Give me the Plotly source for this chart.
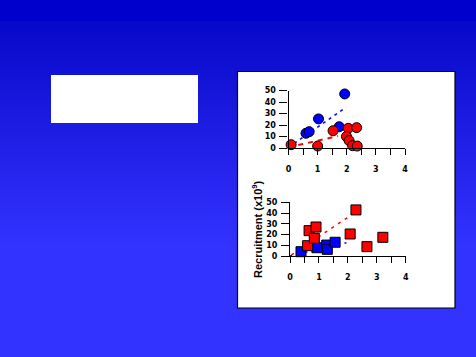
import plotly.graph_objects as go

W, H = 476, 357

# ---- data ----
top_blue_x = [0.60, 0.71, 1.03, 1.74, 1.93]
top_blue_y = [12.8, 14.2, 25.3, 18.5, 47.0]
top_red_x = [0.09, 1.00, 1.53, 2.05, 2.34, 1.99, 2.08, 2.20, 2.36]
top_red_y = [2.9, 1.7, 15.0, 17.1, 17.7, 10.0, 6.5, 2.0, 1.7]
top_blue_fit_x = [0.0, 1.98]
top_blue_fit_y = [0.6, 35.4]
top_red_fit_x = [0.0, 1.70]
top_red_fit_y = [0.6, 10.4]

bot_red_x = [0.61, 0.66, 0.90, 0.84, 2.08, 2.28, 2.66, 3.21]
bot_red_y = [9.6, 23.6, 27.0, 16.5, 20.5, 42.9, 8.7, 17.4]
bot_blue_x = [0.38, 0.93, 1.27, 1.29, 1.56]
bot_blue_y = [4.0, 7.7, 10.2, 6.2, 12.8]
bot_red_fit_x = [0.05, 2.0]
bot_red_fit_y = [1.0, 36.0]
bot_blue_fit_x = [0.0, 2.0]
bot_blue_fit_y = [0.0, 12.7]

x_tickvals = [0, 0.5, 1, 1.5, 2, 2.5, 3, 3.5, 4]
x_ticktext = ["0", "", "1", "", "2", "", "3", "", "4"]
y_tickvals = [0, 10, 20, 30, 40, 50]
y_title = "Recruitment (x10<sup>9</sup>)"


def px_x(p):
    return p / W


def px_y(p):
    return 1 - p / H


fig = go.Figure()

# regression lines
fig.add_trace(go.Scatter(x=top_blue_fit_x, y=top_blue_fit_y, mode="lines",
                         line=dict(color="#0000ff", width=1.5, dash="3px,4px"),
                         xaxis="x", yaxis="y", showlegend=False, cliponaxis=False))
fig.add_trace(go.Scatter(x=top_red_fit_x, y=top_red_fit_y, mode="lines",
                         line=dict(color="#ff0000", width=2, dash="5px,5px"),
                         xaxis="x", yaxis="y", showlegend=False, cliponaxis=False))
fig.add_trace(go.Scatter(x=bot_red_fit_x, y=bot_red_fit_y, mode="lines",
                         line=dict(color="#ff0000", width=1.5, dash="3px,5px"),
                         xaxis="x2", yaxis="y2", showlegend=False, cliponaxis=False))
fig.add_trace(go.Scatter(x=bot_blue_fit_x, y=bot_blue_fit_y, mode="lines",
                         line=dict(color="#0000ff", width=1.5, dash="2px,6px"),
                         xaxis="x2", yaxis="y2", showlegend=False, cliponaxis=False))

# markers
fig.add_trace(go.Scatter(x=top_blue_x, y=top_blue_y, mode="markers",
                         marker=dict(symbol="circle", size=10, color="#0000ff",
                                     line=dict(color="black", width=1)),
                         xaxis="x", yaxis="y", showlegend=False, cliponaxis=False))
fig.add_trace(go.Scatter(x=top_red_x, y=top_red_y, mode="markers",
                         marker=dict(symbol="circle", size=10, color="#ff0000",
                                     line=dict(color="black", width=1)),
                         xaxis="x", yaxis="y", showlegend=False, cliponaxis=False))
fig.add_trace(go.Scatter(x=bot_blue_x, y=bot_blue_y, mode="markers",
                         marker=dict(symbol="square", size=10, color="#0000ff",
                                     line=dict(color="black", width=1)),
                         xaxis="x2", yaxis="y2", showlegend=False, cliponaxis=False))
fig.add_trace(go.Scatter(x=bot_red_x, y=bot_red_y, mode="markers",
                         marker=dict(symbol="square", size=10, color="#ff0000",
                                     line=dict(color="black", width=1)),
                         xaxis="x2", yaxis="y2", showlegend=False, cliponaxis=False))

# background shapes
shapes = []
shapes.append(dict(type="rect", xref="paper", yref="paper", x0=0, x1=1,
                   y0=px_y(21), y1=1, fillcolor="#0000cc", line=dict(width=0), layer="below"))
g0, g1 = 21, 245
c0 = (8, 8, 202)
c1 = (51, 51, 255)
step = 2
for p in range(g0, g1, step):
    t = (p - g0) / (g1 - g0)
    c = tuple(int(round(a + (b - a) * t)) for a, b in zip(c0, c1))
    shapes.append(dict(type="rect", xref="paper", yref="paper", x0=0, x1=1,
                       y0=px_y(p + step + 0.5), y1=px_y(p),
                       fillcolor="rgb(%d,%d,%d)" % c, line=dict(width=0), layer="below"))
# white box left
shapes.append(dict(type="rect", xref="paper", yref="paper",
                   x0=px_x(51), x1=px_x(198), y0=px_y(123), y1=px_y(75),
                   fillcolor="white", line=dict(width=0), layer="below"))
# chart panel
shapes.append(dict(type="rect", xref="paper", yref="paper",
                   x0=px_x(237.5), x1=px_x(455), y0=px_y(308), y1=px_y(71.5),
                   fillcolor="white", line=dict(color="black", width=1.2), layer="below"))

tickfont = dict(family="DejaVu Sans", size=8, color="black", weight="bold")

xcommon = dict(range=[0, 4], tickvals=x_tickvals, ticktext=x_ticktext,
               ticks="outside", ticklen=6, tickwidth=1, tickcolor="black",
               showline=True, linecolor="black", linewidth=1.2, showgrid=False,
               zeroline=False, tickfont=tickfont, ticklabelstandoff=7,
               fixedrange=True, automargin=False)
ycommon = dict(range=[0, 50], tickvals=y_tickvals, ticks="outside", ticklen=8,
               tickwidth=1, tickcolor="black", showline=True, linecolor="black",
               linewidth=1.2, showgrid=False, zeroline=False, tickfont=tickfont,
               ticklabelstandoff=2, fixedrange=True, automargin=False)

fig.update_layout(
    width=W, height=H,
    margin=dict(l=0, r=0, t=0, b=0, pad=0, autoexpand=False),
    paper_bgcolor="#3333ff",
    plot_bgcolor="rgba(0,0,0,0)",
    shapes=shapes,
    xaxis=dict(domain=[px_x(288.5), px_x(405)], anchor="y", **xcommon),
    yaxis=dict(domain=[px_y(148), px_y(90.5)], anchor="x", **ycommon),
    xaxis2=dict(domain=[px_x(290), px_x(405.7)], anchor="y2", **xcommon),
    yaxis2=dict(domain=[px_y(256), px_y(202.3)], anchor="x2", **ycommon),
    annotations=[dict(text=y_title, xref="paper", yref="paper",
                      x=px_x(257), y=px_y(229), textangle=-90, showarrow=False,
                      xanchor="center", yanchor="middle",
                      font=dict(family="Liberation Sans", size=11, color="black",
                                weight="bold"))],
    showlegend=False,
)

fig.write_html("out.html", config={"displayModeBar": False},
               post_script="document.body.style.margin='0';document.body.style.overflow='hidden';")
